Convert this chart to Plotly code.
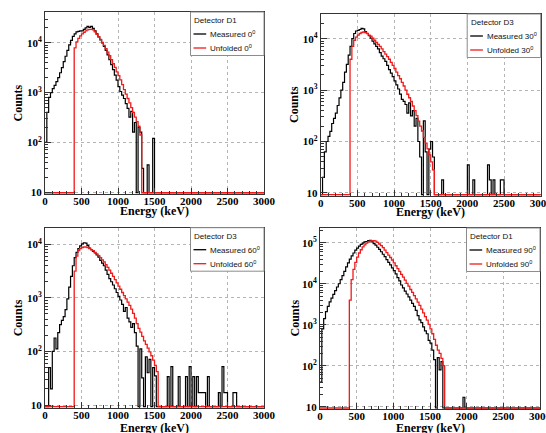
import numpy as np
import plotly.graph_objects as go

W, H = 546, 433

# histogram binning (keV)
BIN = 25
EDGES = np.arange(0, 3000 + BIN, BIN)

# ---- data: counts per 25 keV bin ----
# Detector D1, 0 deg
meas0_start = 0
meas0 = [100, 400, 800, 1000, 1200, 1400, 1660, 2000, 2500, 3160,
         4170, 5370, 7080, 9120, 11200, 13500, 15100, 16600, 17000, 17400,
         17400, 18600, 20000, 21400, 20400, 21400, 19500, 17400, 15100, 13200,
         11500, 10000, 8500, 7080, 5750, 4570, 3630, 2880, 2240, 1780,
         1320, 1050, 890, 760, 600, 480, 320, 420, 160, 250,
         0, 200, 160, 30, 0, 0, 35, 0, 0, 120]
unf0_start = 400
unf0 = [7900, 10500, 12300, 13800, 15100, 16200, 17400, 18200, 18600, 18600,
        18200, 16600, 14800, 13200, 11700, 10200, 8900, 7600, 6500, 5500,
        4600, 3800, 3200, 2600, 2200, 1800, 1450, 1150, 930, 760,
        620, 500, 400, 320, 260, 210, 140]

# Detector D3, 30 deg
meas30_start = 0
meas30 = [0, 20, 63, 100, 126, 158, 224, 282, 355, 501,
          708, 1000, 1410, 2240, 3160, 4790, 7080, 10000, 12600, 14100,
          14500, 15100, 15800, 15500, 13800, 12600, 11500, 10200, 8910, 7940,
          7080, 6310, 5370, 4570, 4070, 3630, 3020, 2510, 2140, 1820,
          1510, 1260, 1050, 832, 661, 603, 525, 355, 562, 316,
          398, 200, 282, 100, 50, 0, 251, 63, 0, 71, 100, 50]
meas30_spike_e = [1650, 2000, 2075, 2275, 2300, 2350, 2450, 2475]
meas30_spike_c = [18, 35, 18, 35, 18, 18, 18, 18]
unf30_start = 400
unf30 = [3980, 7080, 9330, 10700, 11700, 12600, 13200, 13500, 13200, 12600,
         11700, 11200, 10200, 9330, 8510, 7760, 7080, 6310, 5620, 5010,
         4470, 3980, 3470, 3020, 2630, 2240, 1910, 1660, 1410, 1200,
         1000, 830, 710, 600, 490, 400, 320, 250, 200, 160,
         120, 93, 72, 55, 40, 28]

# Detector D3, 60 deg
meas60_start = 0
meas60 = [0, 0, 50, 20, 100, 178, 112, 224, 316, 380,
          447, 603, 955, 1585, 2510, 3980, 5620, 7080, 8320, 9330,
          10200, 10700, 10500, 9550, 8510, 7940, 7410, 6920, 6310, 5750,
          5010, 4470, 3980, 3310, 2750, 2290, 2000, 1740, 1480, 1260,
          1070, 912, 759, 562, 661, 417, 355, 282, 331, 224,
          126, 0, 112, 32, 0, 79, 40, 71, 0, 50, 35]
meas60_spike_e = [1675, 1725, 1825, 1925, 1975, 2025, 2075, 2100, 2125,
                  2150, 2175, 2225, 2375, 2425, 2450, 2475, 2575, 2600]
meas60_spike_c = [34, 52, 34, 34, 52, 34, 34, 17, 17,
                  17, 17, 34, 17, 52, 17, 17, 17, 17]
unf60_start = 400
unf60 = [3160, 6030, 7590, 8320, 8710, 8910, 8910, 8710, 8320, 7940,
         7590, 7080, 6610, 6170, 5620, 5130, 4680, 4170, 3720, 3310,
         2880, 2510, 2190, 1910, 1660, 1450, 1260, 1100, 955, 832,
         724, 617, 513, 417, 331, 269, 229, 191, 158, 135,
         115, 98, 83, 69, 55, 42]

# Detector D1, 90 deg
meas90_start = 0
meas90 = [40, 794, 1410, 2090, 2820, 3630, 4470, 5500, 6760, 8320,
          10000, 12600, 15800, 20000, 25700, 32400, 39800, 47900, 56200, 66100,
          74100, 83200, 91200, 97700, 104700, 107200, 112200, 114800, 104700, 95500,
          87100, 77600, 69200, 60300, 52500, 45700, 38900, 33100, 28800, 24500,
          20900, 17400, 14100, 11700, 9330, 7940, 6610, 5620, 4790, 3980,
          3310, 2820, 2240, 1660, 1320, 1120, 891, 708, 603, 417,
          355, 240, 141, 0, 158, 79, 126]
meas90_spike_e = [1950]
meas90_spike_c = [17]
unf90_start = 400
unf90 = [3980, 12600, 22400, 33100, 44700, 56200, 67600, 79400, 89100, 97700,
         104700, 109600, 112200, 112200, 109600, 102300, 93300, 85100, 75900, 66100,
         57500, 50100, 43700, 38000, 32400, 27500, 23400, 20000, 17000, 14500,
         12300, 10200, 8710, 7240, 6170, 5130, 4270, 3550, 2950, 2400,
         1950, 1580, 1290, 1020, 794, 603, 437, 316, 240, 200, 151, 100]

detectors = ["D1", "D3", "D3", "D1"]
angles = ["0", "30", "60", "90"]
x_ticks = [0, 500, 1000, 1500, 2000, 2500, 3000]


def to_hist(start, counts, spike_e=(), spike_c=()):
    vals = np.zeros(len(EDGES) - 1)
    i0 = start // BIN
    vals[i0:i0 + len(counts)] = counts
    for e, c in zip(spike_e, spike_c):
        vals[e // BIN] = c
    return np.append(vals, vals[-1])


series = [
    (to_hist(meas0_start, meas0), to_hist(unf0_start, unf0)),
    (to_hist(meas30_start, meas30, meas30_spike_e, meas30_spike_c), to_hist(unf30_start, unf30)),
    (to_hist(meas60_start, meas60, meas60_spike_e, meas60_spike_c), to_hist(unf60_start, unf60)),
    (to_hist(meas90_start, meas90, meas90_spike_e, meas90_spike_c), to_hist(unf90_start, unf90)),
]

# pixel boxes of the four frames (x0, x1, ytop, ybottom) and log y-ranges
frames = [(45, 264, 12, 194), (320.7, 540.7, 14, 196),
          (45, 264, 227.7, 408), (320, 540, 228, 409)]
yranges = [(0.96, 4.62), (0.94, 4.48), (0.944, 4.31), (0.944, 5.36)]
ytitle_x = [17.5, 294, 17.5, 294]
xtitle_y = [211, 212, 428, 428]

BLACK = "#000000"
RED = "#f01a1a"
AX = "#333333"
SERIF = "Liberation Serif"
SANS = "Liberation Sans"


def px(x):
    return x / W


def py(y):
    return 1 - y / H


fig = go.Figure()
shapes, annotations = [], []

for i, ((meas, unf), (x0, x1, yt, yb), (ylo, yhi)) in enumerate(zip(series, frames, yranges)):
    n = "" if i == 0 else str(i + 1)
    floor = 10 ** (ylo + 0.025)
    for vals, col, w in ((meas, BLACK, 1.2), (unf, RED, 1.3)):
        fig.add_trace(go.Scatter(
            x=EDGES, y=np.where(vals > 0, vals, floor),
            mode="lines", line=dict(color=col, width=w, shape="hv"),
            xaxis="x" + n, yaxis="y" + n, showlegend=False, hoverinfo="skip"))

    ndec = int(np.floor(yhi))
    yt_vals = [10 ** d for d in range(1, ndec + 1)]
    yt_text = ["10"] + ["10<sup>%d</sup>" % d for d in range(2, ndec + 1)]
    minor_vals = [k * 10 ** d for d in range(1, ndec + 1) for k in range(2, 10)]

    fig.update_layout(**{
        "xaxis" + n: dict(
            domain=[px(x0), px(x1)], range=[0, 3000], anchor="y" + n, automargin=False,
            tickvals=x_ticks, ticks="inside", ticklen=6, tickcolor=AX,
            ticklabelstandoff=-3, ticklabeloverflow="allow",
            showline=True, linecolor=AX, linewidth=1, mirror=True,
            showgrid=True, gridcolor="#b4b4b4", griddash="dot", gridwidth=0.8,
            zeroline=False,
            tickfont=dict(family=SERIF, size=11, color="black", weight="bold"),
            minor=dict(ticks="inside", ticklen=3, dtick=100, tickcolor=AX, showgrid=False)),
        "yaxis" + n: dict(
            domain=[py(yb), py(yt)], type="log", range=[ylo, yhi], anchor="x" + n,
            automargin=False, ticklabeloverflow="allow",
            tickvals=yt_vals, ticktext=yt_text, ticks="inside", ticklen=6, tickcolor=AX,
            showline=True, linecolor=AX, linewidth=1, mirror=True,
            showgrid=True, gridcolor="#b4b4b4", griddash="dot", gridwidth=0.8,
            zeroline=False,
            tickfont=dict(family=SERIF, size=11, color="black", weight="bold"),
            minor=dict(ticks="inside", ticklen=3, tickvals=minor_vals, tickcolor=AX, showgrid=False)),
    })

    # axis titles
    annotations.append(dict(text="<b>Counts</b>", x=px(ytitle_x[i]), y=py((yt + yb) / 2),
                            xref="paper", yref="paper", textangle=-90, showarrow=False,
                            xanchor="center", yanchor="middle",
                            font=dict(family=SERIF, size=12, color="black")))
    annotations.append(dict(text="<b>Energy (keV)</b>", x=px((x0 + x1) / 2), y=py(xtitle_y[i]),
                            xref="paper", yref="paper", showarrow=False,
                            xanchor="center", yanchor="middle",
                            font=dict(family=SERIF, size=12, color="black")))

    # legend box
    bl, bt = x1 - 73.5, yt
    shapes.append(dict(type="rect", xref="paper", yref="paper",
                       x0=px(bl), x1=px(x1), y0=py(bt + 43.5), y1=py(bt),
                       fillcolor="white", line=dict(color="#8c8c8c", width=1)))
    annotations.append(dict(text="Detector " + detectors[i], x=px(bl + 1.8), y=py(bt + 8.4),
                            xref="paper", yref="paper", showarrow=False,
                            xanchor="left", yanchor="middle",
                            font=dict(family=SANS, size=8, color="#111")))
    for row, (lab, col) in enumerate((("Measured", BLACK), ("Unfolded", RED))):
        yrow = bt + 22 + 14 * row
        shapes.append(dict(type="line", xref="paper", yref="paper",
                           x0=px(bl + 3), x1=px(bl + 15.7), y0=py(yrow), y1=py(yrow),
                           line=dict(color=col, width=1.3)))
        annotations.append(dict(text="%s %s<sup>0</sup>" % (lab, angles[i]),
                                x=px(bl + 17.3), y=py(yrow),
                                xref="paper", yref="paper", showarrow=False,
                                xanchor="left", yanchor="middle",
                                font=dict(family=SANS, size=8, color="#111")))

fig.update_layout(
    width=W, height=H,
    margin=dict(l=0, r=0, t=0, b=0),
    paper_bgcolor="white", plot_bgcolor="white",
    showlegend=False,
    shapes=shapes, annotations=annotations,
)

# the page's default body margin would shift the whole figure by 8px
fig.write_html("out.html", config={"displayModeBar": False},
               post_script="document.body.style.margin='0';document.body.style.overflow='hidden';")
